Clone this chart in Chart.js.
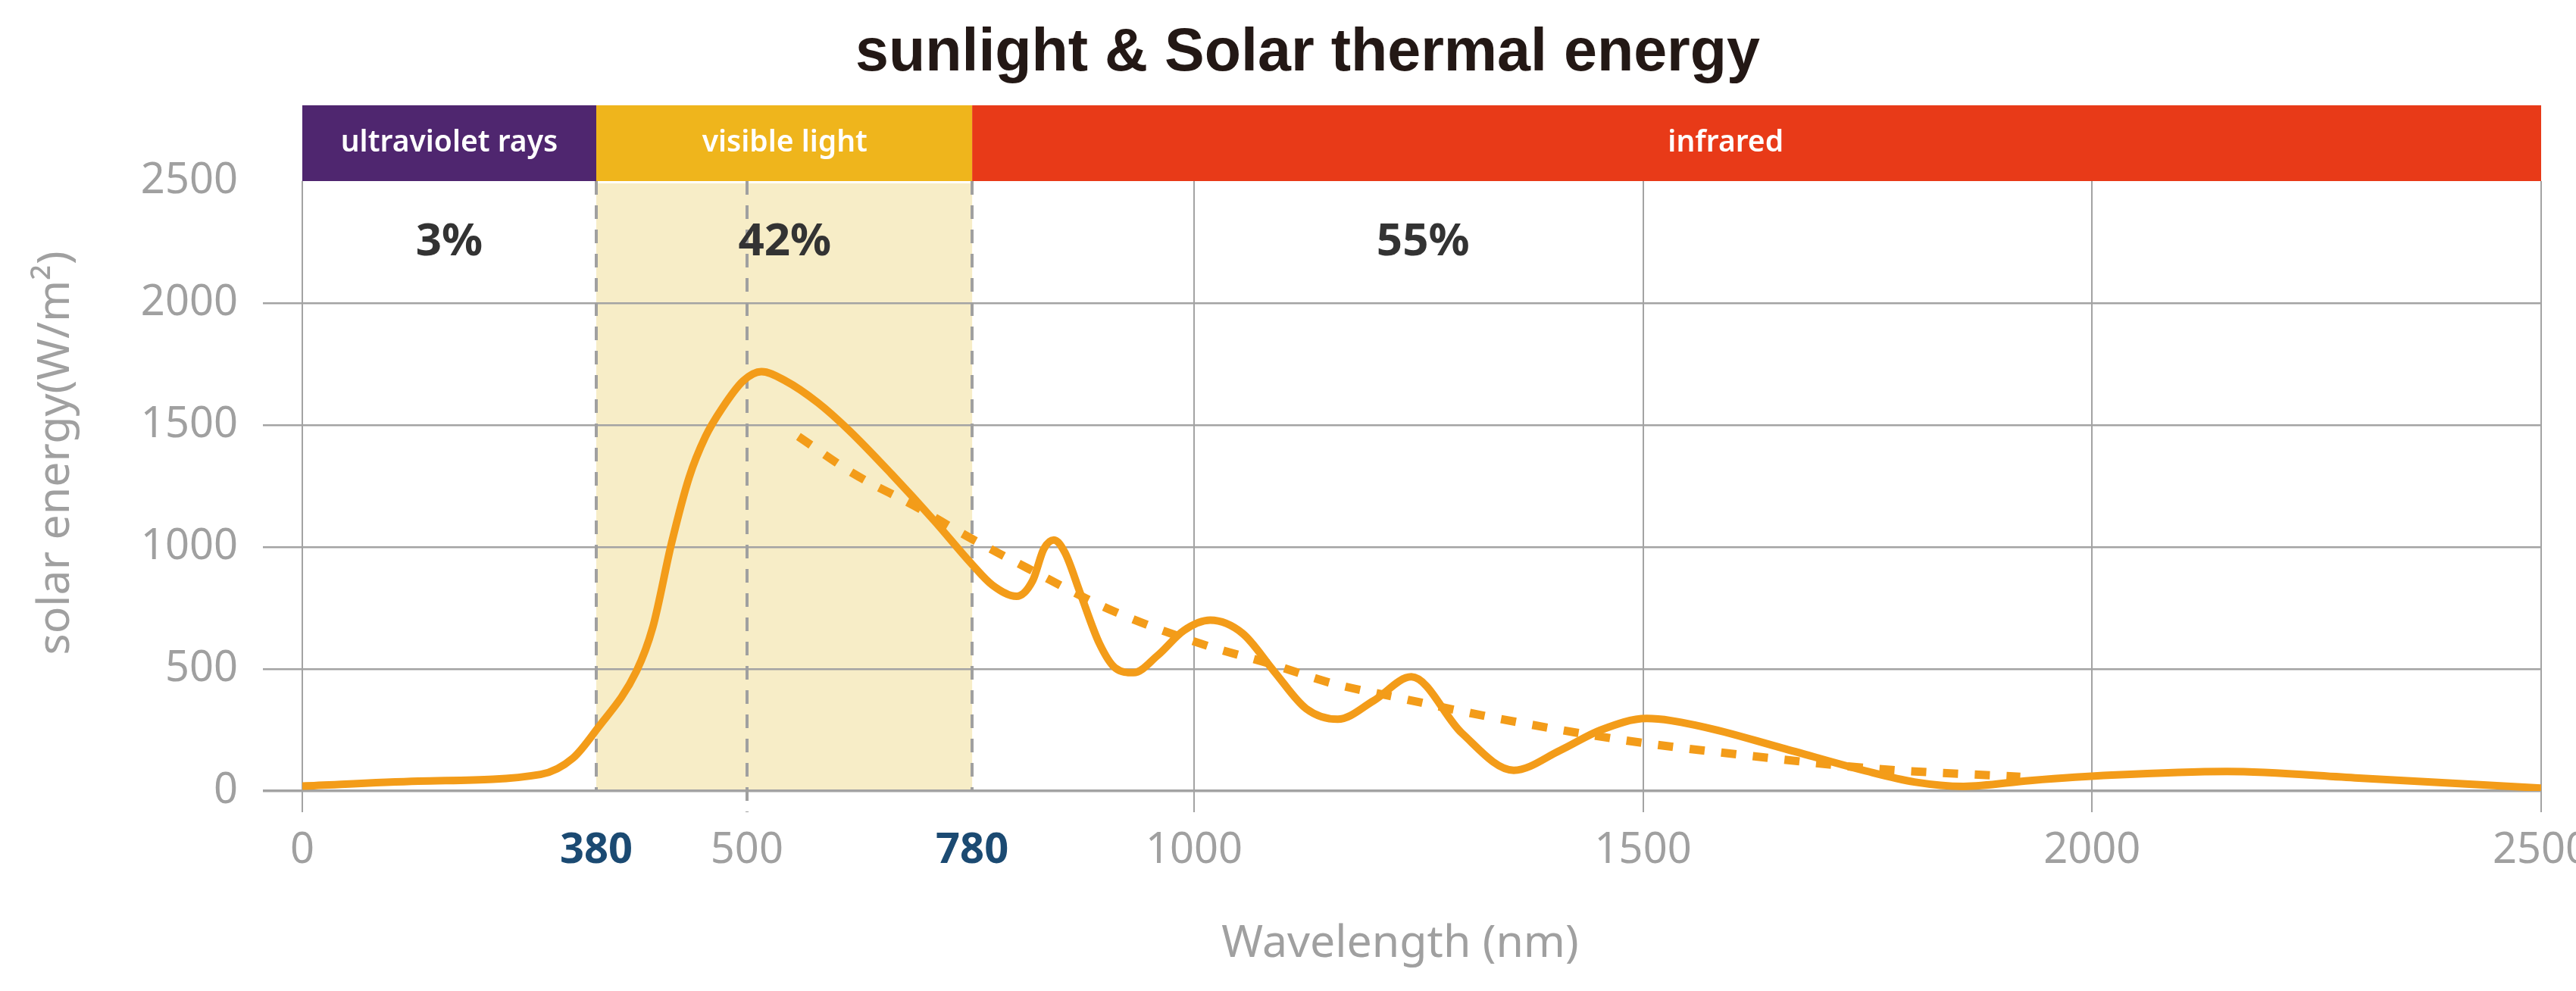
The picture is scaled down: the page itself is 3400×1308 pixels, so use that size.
<!DOCTYPE html>
<html>
<head>
<meta charset="utf-8">
<script src="https://cdn.jsdelivr.net/npm/chart.js@4.4.1/dist/chart.umd.min.js"></script>
<style>
html,body{margin:0;padding:0;background:#ffffff;}
#wrap{width:3400px;height:1308px;}
</style>
</head>
<body>
<div id="wrap"><canvas id="c" width="3400" height="1308"></canvas></div>
<script>
// ---------- data ----------
const chartTitle = 'sunlight & Solar thermal energy';
const xTitle = 'Wavelength (nm)';
const yTitle = 'solar energy(W/m²)';

const solidWavelength = [0, 150, 308, 350, 380, 412, 425, 440, 454, 467, 480, 497, 518, 548, 588, 627, 680, 733, 780, 800, 824, 840, 851, 861, 872, 887, 906, 922, 940, 964, 990, 1018, 1054, 1089, 1125, 1160, 1200, 1242, 1298, 1356, 1408, 1453, 1504, 1563, 1655, 1747, 1802, 1857, 1931, 2022, 2150, 2297, 2500];
const solidEnergy     = [20, 40, 68, 135, 250, 491, 671, 1017, 1286, 1453, 1567, 1681, 1719, 1681, 1592, 1478, 1298, 1107, 928, 844, 798, 862, 992, 1029, 977, 813, 606, 504, 485, 556, 658, 700, 646, 491, 337, 294, 370, 468, 238, 85, 167, 250, 297, 266, 176, 83, 37, 19, 43, 65, 80, 53, 12];

const trendWavelength = [564, 634, 707, 776, 835, 919, 1009, 1087, 1154, 1224, 1333, 1479, 1622, 1763, 1920];
const trendEnergy     = [1453, 1298, 1171, 1040, 913, 739, 602, 519, 441, 385, 301, 208, 143, 90, 58];

const xTickValues = [0, 380, 500, 780, 1000, 1500, 2000, 2500];
const highlightTicks = [380, 780];
const yMax = 2500;
const yStep = 500;

const bandNames = ['ultraviolet rays', 'visible light', 'infrared'];
const bandFrom = [0, 380, 780];
const bandTo = [380, 780, 2500];
const bandColors = ['#4f266f', '#efb51c', '#e83a18'];
const bandLabelAt = [190, 547, 1592];
const bandShares = ['3%', '42%', '55%'];
const shareAt = [190, 547, 1255];
const shareLevel = 2250;

const guideValues = [380, 500, 780];
const guideThroughAxis = [false, true, false];

// ---------- non-uniform wavelength axis (as drawn in the reference) ----------
const knotValues = [0, 380, 500, 780, 1000, 2500];
const knotFractions = [0, 0.1313, 0.1986, 0.2992, 0.3983, 1];
function toFraction(v) {
  for (let i = 1; i < knotValues.length; i++) {
    if (v <= knotValues[i] || i === knotValues.length - 1) {
      const t = (v - knotValues[i - 1]) / (knotValues[i] - knotValues[i - 1]);
      return knotFractions[i - 1] + t * (knotFractions[i] - knotFractions[i - 1]);
    }
  }
  return 0;
}
function fromFraction(f) {
  for (let i = 1; i < knotFractions.length; i++) {
    if (f <= knotFractions[i] || i === knotFractions.length - 1) {
      const t = (f - knotFractions[i - 1]) / (knotFractions[i] - knotFractions[i - 1]);
      return knotValues[i - 1] + t * (knotValues[i] - knotValues[i - 1]);
    }
  }
  return 0;
}
class WaveScale extends Chart.LinearScale {
  getPixelForValue(value) {
    return value === null ? NaN : this.getPixelForDecimal(toFraction(value));
  }
  getValueForPixel(pixel) {
    return fromFraction(this.getDecimalForPixel(pixel));
  }
}
WaveScale.id = 'wave';
WaveScale.defaults = Chart.LinearScale.defaults;
Chart.registry.addScales(WaveScale);

const GRID = '#a3a3a3';
const TICK_GREY = '#a0a0a0';
const ORANGE = '#f39c19';

const decor = {
  id: 'decor',
  beforeDraw(chart) {
    const {ctx, chartArea: a, scales: {x, y}} = chart;
    ctx.save();
    ctx.fillStyle = '#f7edc7';
    const l = x.getPixelForValue(bandFrom[1]);
    const r = x.getPixelForValue(bandTo[1]);
    const b = y.getPixelForValue(0);
    ctx.fillRect(l, a.top + 3, r - l, b - a.top - 3);
    ctx.restore();
  },
  beforeDatasetsDraw(chart) {
    const {ctx, chartArea: a, scales: {x, y}} = chart;
    ctx.save();
    ctx.strokeStyle = '#a0a0a0';
    ctx.lineWidth = 4;
    ctx.setLineDash([18, 14]);
    guideValues.forEach((v, i) => {
      const px = Math.round(x.getPixelForValue(v));
      const bottom = y.getPixelForValue(0) + (guideThroughAxis[i] ? 28 : 0);
      ctx.beginPath();
      ctx.moveTo(px, a.top);
      ctx.lineTo(px, bottom);
      ctx.stroke();
    });
    ctx.restore();
  },
  afterDraw(chart) {
    const {ctx, chartArea: a, scales: {x, y}} = chart;
    ctx.save();
    // banner of spectral regions
    const top = a.top - 100;
    bandNames.forEach((name, i) => {
      const l = x.getPixelForValue(bandFrom[i]);
      const r = x.getPixelForValue(bandTo[i]);
      ctx.fillStyle = bandColors[i];
      ctx.fillRect(l, top, r - l, 100);
    });
    ctx.fillStyle = '#ffffff';
    ctx.font = '600 39px "Noto Sans"';
    ctx.textAlign = 'center';
    ctx.textBaseline = 'middle';
    bandNames.forEach((name, i) => {
      ctx.fillText(name, x.getPixelForValue(bandLabelAt[i]), top + 50);
    });
    // share labels
    ctx.fillStyle = '#333333';
    ctx.font = 'bold 60px "Noto Sans"';
    bandShares.forEach((s, i) => {
      ctx.fillText(s, x.getPixelForValue(shareAt[i]), y.getPixelForValue(shareLevel));
    });
    // chart title
    ctx.fillStyle = '#231815';
    ctx.font = 'bold 79px "Liberation Sans", Arial, sans-serif';
    ctx.textBaseline = 'alphabetic';
    ctx.fillText(chartTitle, 1726, 93);
    // axis titles
    ctx.fillStyle = TICK_GREY;
    ctx.font = '59px "Noto Sans"';
    ctx.fillText(xTitle, 1848, 1263);
    ctx.translate(91, 598);
    ctx.rotate(-Math.PI / 2);
    ctx.fillText(yTitle, 0, 0);
    ctx.restore();
  }
};

const toPoints = (xs, ys) => xs.map((v, i) => ({x: v, y: ys[i]}));

new Chart(document.getElementById('c'), {
  type: 'line',
  data: {
    datasets: [
      {
        label: 'solar energy',
        data: toPoints(solidWavelength, solidEnergy),
        borderColor: ORANGE,
        borderWidth: 10,
        pointRadius: 0,
        fill: false,
        cubicInterpolationMode: 'monotone'
      },
      {
        label: 'trend',
        data: toPoints(trendWavelength, trendEnergy),
        borderColor: ORANGE,
        borderWidth: 11,
        borderDash: [20, 22],
        borderCapStyle: 'butt',
        pointRadius: 0,
        fill: false,
        cubicInterpolationMode: 'monotone'
      }
    ]
  },
  options: {
    responsive: false,
    animation: false,
    devicePixelRatio: 1,
    layout: {padding: {left: 0, right: 46, top: 239, bottom: 0}},
    plugins: {
      legend: {display: false},
      tooltip: {enabled: false},
      title: {display: false}
    },
    scales: {
      x: {
        type: 'wave',
        min: 0,
        max: 2500,
        afterBuildTicks: s => { s.ticks = xTickValues.map(v => ({value: v})); },
        afterFit: s => { s.height = 264; s.paddingLeft = 0; s.paddingRight = 0; },
        border: {display: false},
        grid: {
          color: c => (c.tick && highlightTicks.concat([500]).includes(c.tick.value)) ? 'rgba(0,0,0,0)' : GRID,
          lineWidth: 2,
          tickLength: 28
        },
        ticks: {
          autoSkip: false,
          maxRotation: 0,
          padding: 17,
          callback: v => String(v),
          color: c => (c.tick && highlightTicks.includes(c.tick.value)) ? '#1b4a72' : TICK_GREY,
          font: c => (c.tick && highlightTicks.includes(c.tick.value))
            ? {family: '"Noto Sans"', size: 56, weight: 'bold'}
            : {family: '"Noto Sans"', size: 56}
        },
        title: {display: false}
      },
      y: {
        min: 0,
        max: yMax,
        afterFit: s => { s.width = 399; s.paddingTop = 0; s.paddingBottom = 0; },
        border: {display: false},
        grid: {
          color: c => (c.tick && c.tick.value === yMax) ? 'rgba(0,0,0,0)' : GRID,
          lineWidth: c => (c.tick && c.tick.value === 0) ? 3.5 : 2.5,
          tickLength: 52
        },
        ticks: {
          stepSize: yStep,
          padding: 33,
          color: TICK_GREY,
          callback: v => String(v),
          font: {family: '"Noto Sans"', size: 56}
        },
        title: {display: false}
      }
    }
  },
  plugins: [decor]
});
</script>
</body>
</html>
